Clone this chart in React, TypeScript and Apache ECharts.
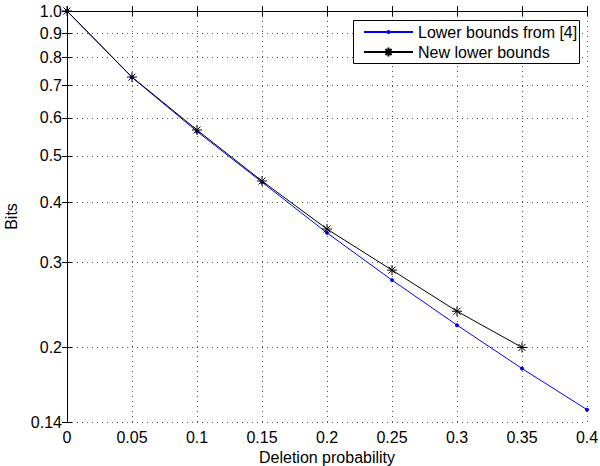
import React, { useEffect, useRef } from "react";
import * as echarts from "echarts";

const xValues = [0, 0.05, 0.1, 0.15, 0.2, 0.25, 0.3, 0.35, 0.4];
const oldBounds = [1.0, 0.728, 0.562, 0.441, 0.346, 0.276, 0.2225, 0.1808, 0.1485];
const newBounds = [1.0, 0.729, 0.566, 0.4434, 0.3524, 0.2895, 0.2378, 0.2];
const yTickValues = [0.14, 0.2, 0.3, 0.4, 0.5, 0.6, 0.7, 0.8, 0.9, 1.0];
const seriesNames = ["Lower bounds from [4]", "New lower bounds"];

const FONT = "Liberation Sans";
const STAR = "path://M5 0 L5 10 M0 5 L10 5 M1.5 1.5 L8.5 8.5 M1.5 8.5 L8.5 1.5";

function fmtY(v: number): string {
  const r = Math.round(Math.pow(10, v) * 100) / 100;
  if (Math.abs(r - 0.14) < 1e-6) return "0.14";
  return r.toFixed(1);
}

export default function App() {
  const ref = useRef<HTMLDivElement>(null);
  useEffect(() => {
    if (!ref.current) return;
    const chart = echarts.init(ref.current, null, { renderer: "svg" });
    const logTicks = yTickValues.map((v) => Math.log10(v));
    const gridLine = { show: true, lineStyle: { color: "#555", width: 1, type: [1, 4] as any } };
    const axisLine = { show: true, lineStyle: { color: "#000", width: 1 } };
    const tick = { show: true, inside: true, length: 5, lineStyle: { color: "#000" } };
    const legendText = { fontFamily: FONT, fontSize: 16, lineHeight: 16, color: "#000" };
    const option: any = {
      animation: false,
      backgroundColor: "#fff",
      textStyle: { fontFamily: FONT },
      grid: { left: 67, right: 13, top: 11, bottom: 44, containLabel: false, outerBoundsMode: "none" },
      graphic: [
        {
          type: "rect",
          z: 1,
          shape: { x: 353.5, y: 20.5, width: 226, height: 43 },
          style: { fill: "#fff", stroke: "#000", lineWidth: 1 },
        },
      ],
      legend: [
        {
          left: 363,
          top: 24,
          orient: "vertical",
          itemWidth: 49,
          itemHeight: 5,
          padding: 0,
          textStyle: legendText,
          data: [seriesNames[0]],
        },
        {
          left: 363,
          top: 44,
          orient: "vertical",
          itemWidth: 49,
          itemHeight: 11,
          padding: 0,
          textStyle: legendText,
          data: [seriesNames[1]],
        },
      ],
      xAxis: [
        {
          type: "value",
          min: 0,
          max: 0.4,
          interval: 0.05,
          axisLine,
          axisTick: tick,
          splitLine: gridLine,
          axisLabel: { margin: 7, fontFamily: FONT, fontSize: 16, color: "#000" },
          name: "Deletion probability",
          nameLocation: "middle",
          nameGap: 20,
          nameTextStyle: { fontFamily: FONT, fontSize: 16, color: "#000" },
        },
        {
          type: "value",
          position: "top",
          min: 0,
          max: 0.4,
          interval: 0.05,
          axisLine,
          axisTick: tick,
          splitLine: { show: false },
          axisLabel: { show: false },
        },
      ],
      yAxis: [
        {
          type: "value",
          min: Math.log10(0.14),
          max: 0,
          axisLine,
          axisTick: { ...tick, customValues: logTicks },
          splitLine: gridLine,
          axisLabel: {
            customValues: logTicks,
            margin: 5,
            fontFamily: FONT,
            fontSize: 16,
            color: "#000",
            formatter: (v: number) => fmtY(v),
          },
          name: "Bits",
          nameLocation: "middle",
          nameGap: 41,
          nameTextStyle: { fontFamily: FONT, fontSize: 16, color: "#000" },
        },
        {
          type: "value",
          position: "right",
          min: Math.log10(0.14),
          max: 0,
          axisLine,
          axisTick: { ...tick, customValues: logTicks },
          splitLine: { show: false },
          axisLabel: { show: false, customValues: logTicks },
        },
      ],
      series: [
        {
          name: seriesNames[0],
          type: "line",
          data: oldBounds.map((v, i) => [xValues[i], Math.log10(v)]),
          symbol: "circle",
          symbolSize: 4,
          showAllSymbol: true,
          lineStyle: { color: "#0000ff", width: 1 },
          itemStyle: { color: "#0000ff" },
          z: 2,
        },
        {
          name: seriesNames[1],
          type: "line",
          data: newBounds.map((v, i) => [xValues[i], Math.log10(v)]),
          symbol: STAR,
          symbolSize: 10,
          showAllSymbol: true,
          lineStyle: { color: "#000", width: 1 },
          itemStyle: { color: "#000", borderColor: "#000", borderWidth: 1 },
          z: 3,
        },
      ],
    };
    chart.setOption(option);
    return () => chart.dispose();
  }, []);
  return (
    <div
      ref={ref}
      style={{ position: "fixed", left: 0, top: 0, width: 600, height: 466, background: "#fff" }}
    />
  );
}
